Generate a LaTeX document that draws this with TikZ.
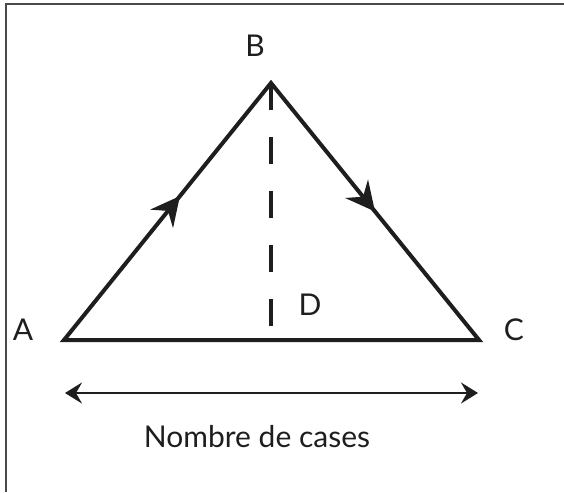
\documentclass[tikz,border=0pt]{standalone}
\usepackage{fontspec}
\setmainfont{Lato}
\usetikzlibrary{arrows.meta,decorations.markings}
\definecolor{inkblack}{HTML}{1E1E1E}
\definecolor{framegray}{HTML}{4A4A4A}
\tikzset{
  ptlabel/.style={
    font=\fontsize{30}{36}\selectfont,
    text=inkblack,
    inner sep=0pt
  },
  sideline/.style={
    line width=4pt,
    draw=inkblack,
    line join=miter
  },
  midarrow/.style={
    postaction={decorate},
    decoration={markings,
      mark=at position #1 with {\arrow{Stealth[length=29pt,width=29pt,inset=10pt]}}}
  },
  heightline/.style={
    line width=4pt,
    draw=inkblack,
    dash pattern=on 27pt off 27pt
  },
  spanarrow/.style={
    {Stealth[length=17pt,width=21pt,inset=6pt]}-{Stealth[length=17pt,width=21pt,inset=6pt]},
    line width=2pt,
    draw=inkblack
  }
}

\begin{document}
\begin{tikzpicture}[x=1pt,y=-1pt]
    \useasboundingbox (0,0) rectangle (564,492);

    % cadre
    \draw[framegray, line width=2pt] (6,492) -- (6,4) -- (564,4);

    % sommets
    \coordinate (A) at (64,340);
    \coordinate (B) at (271,83);
    \coordinate (C) at (479,340);
    \coordinate (D) at (271,328);

    \node[ptlabel] (labA) at (23,330) {A};
    \node[ptlabel] (labB) at (255,46) {B};
    \node[ptlabel] (labC) at (514,330) {C};
    \node[ptlabel] (labD) at (310,305) {D};

    \draw[sideline] (A) -- (B) -- (C) -- cycle;
    \path[line width=4pt, inkblack, midarrow=0.56] (A) -- (B);
    \path[line width=4pt, inkblack, midarrow=0.5] (B) -- (C);
    \draw[heightline] (B) -- (D);

    % nombre de cases
    \coordinate (left) at (65,393);
    \coordinate (right) at (478,393);
    \draw[spanarrow] (left) -- (right);
    \node[ptlabel] (count) at (257,437) {Nombre de cases};
\end{tikzpicture}
\end{document}
